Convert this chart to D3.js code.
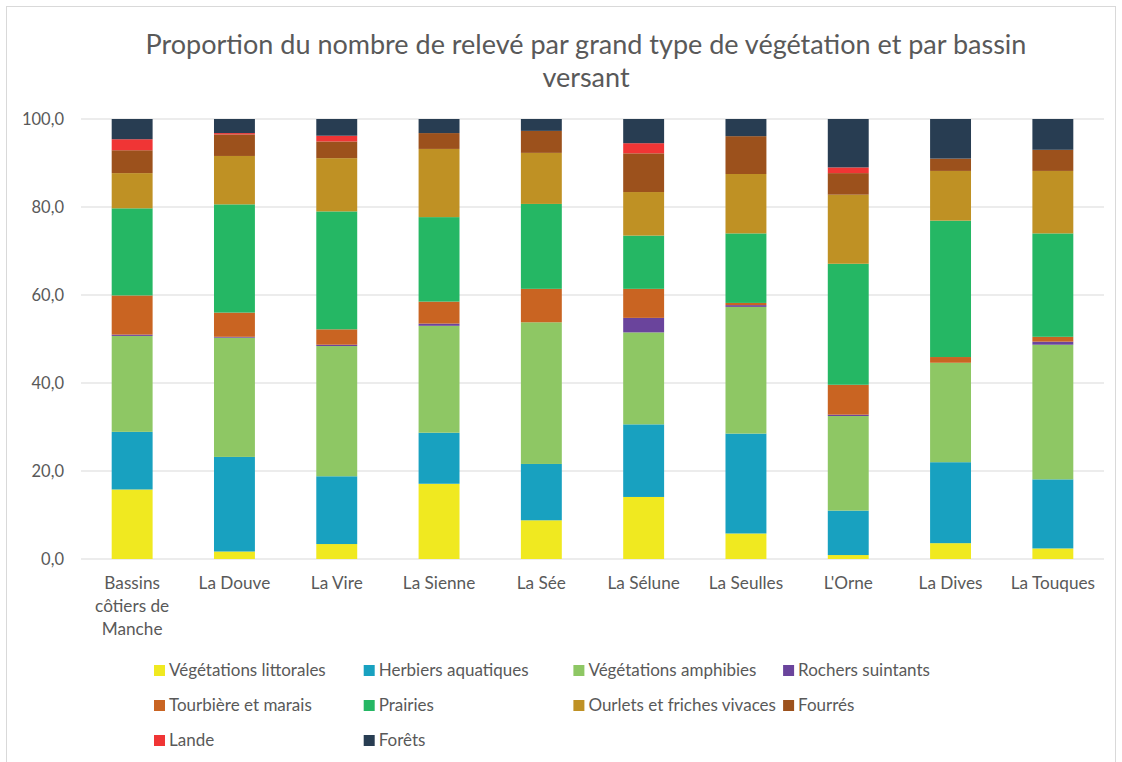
<!DOCTYPE html>
<html><head><meta charset="utf-8">
<script src="https://cdn.jsdelivr.net/npm/d3@7"></script>
<style>body{margin:0;background:#fff}</style>
</head><body>
<svg id="c" width="1122" height="762"></svg>
<script>
// ---- Data ----
const categories = ["Bassins côtiers de Manche","La Douve","La Vire","La Sienne","La Sée","La Sélune","La Seulles","L'Orne","La Dives","La Touques"];
const seriesNames = ["Végétations littorales","Herbiers aquatiques","Végétations amphibies","Rochers suintants","Tourbière et marais","Prairies","Ourlets et friches vivaces","Fourrés","Lande","Forêts"];
const seriesColors = ["#F0E920","#18A1C0","#8EC764","#6A449C","#C96422","#25B764","#BF9124","#9C511C","#F03535","#283D52"];
const littorales = [15.8, 1.7, 3.4, 17.1, 8.8, 14.1, 5.8, 0.9, 3.6, 2.4];
const herbiers   = [13.1, 21.5, 15.4, 11.6, 12.8, 16.5, 22.7, 10.1, 18.4, 15.7];
const amphibies  = [21.8, 27.1, 29.6, 24.3, 32.2, 20.9, 28.8, 21.5, 22.6, 30.6];
const rochers    = [0.3, 0.2, 0.3, 0.5, 0.0, 3.3, 0.4, 0.3, 0.0, 0.7];
const tourbiere  = [8.9, 5.5, 3.5, 5.0, 7.6, 6.6, 0.5, 6.8, 1.3, 1.1];
const prairies   = [19.8, 24.6, 26.8, 19.2, 19.3, 12.1, 15.8, 27.5, 31.0, 23.5];
const ourlets    = [8.0, 11.0, 12.1, 15.5, 11.6, 9.9, 13.5, 15.7, 11.3, 14.2];
const fourres    = [5.2, 4.9, 3.8, 3.6, 5.0, 8.8, 8.6, 4.9, 2.8, 4.8];
const lande      = [2.5, 0.3, 1.3, 0.0, 0.0, 2.3, 0.0, 1.3, 0.0, 0.0];
const forets     = [4.6, 3.2, 3.8, 3.2, 2.7, 5.5, 3.9, 11.0, 9.0, 7.0];
const yTicks = [0, 20, 40, 60, 80, 100];
const titleLines = ["Proportion du nombre de relevé par grand type de végétation et par bassin", "versant"];

const seriesValues = [littorales, herbiers, amphibies, rochers, tourbiere, prairies, ourlets, fourres, lande, forets];
const table = categories.map((c, i) => {
  const row = {cat: c};
  seriesNames.forEach((s, k) => row[s] = seriesValues[k][i]);
  return row;
});

const FONT = "Lato, 'Open Sans', sans-serif";
const TXT = "#595959";
const svg = d3.select("#c");
svg.append("rect").attr("x", 6.5).attr("y", 6.5).attr("width", 1109).attr("height", 770)
  .attr("fill", "#fff").attr("stroke", "#d9d9d9");

const x = d3.scaleBand().domain(categories).range([81, 1104]).paddingInner(0.6).paddingOuter(0.3);
const y = d3.scaleLinear().domain([0, 100]).range([559, 119]);

// gridlines
svg.append("g").selectAll("line").data(yTicks).join("line")
  .attr("x1", 81).attr("x2", 1104).attr("y1", d => y(d)).attr("y2", d => y(d))
  .attr("stroke", "#d9d9d9").attr("stroke-width", 1);

// y axis labels
const yAxis = d3.axisLeft(y).tickValues(yTicks).tickSize(0).tickPadding(0)
  .tickFormat(d => d3.format(".1f")(d).replace(".", ","));
const ga = svg.append("g").attr("transform", "translate(64,0)").call(yAxis);
ga.select(".domain").remove();
ga.selectAll("text").attr("font-family", FONT).attr("font-size", 16.5).attr("fill", TXT);

// bars
const stack = d3.stack().keys(seriesNames)(table);
svg.append("g").selectAll("g").data(stack).join("g")
  .attr("fill", (d, i) => seriesColors[i])
  .selectAll("rect").data(d => d).join("rect")
  .attr("x", d => x(d.data.cat)).attr("width", x.bandwidth())
  .attr("y", d => y(d[1])).attr("height", d => y(d[0]) - y(d[1]));

// x axis labels
const xAxis = d3.axisBottom(x).tickSize(0).tickPadding(0);
const gx = svg.append("g").attr("transform", "translate(0,577)").call(xAxis);
gx.select(".domain").remove();
gx.selectAll("text").attr("font-family", FONT).attr("font-size", 17.2).attr("fill", TXT)
  .each(function(d) {
    const t = d3.select(this);
    const words = d.split(" ");
    t.text(null);
    let line = [], lines = [];
    const tmp = t.append("tspan");
    words.forEach(w => {
      line.push(w);
      tmp.text(line.join(" "));
      if (tmp.node().getComputedTextLength() > 95 && line.length > 1) {
        line.pop(); lines.push(line.join(" ")); line = [w];
      }
    });
    lines.push(line.join(" "));
    tmp.remove();
    lines.forEach((l, i) => t.append("tspan").attr("x", 0).attr("dy", i === 0 ? "0.71em" : 23).text(l));
  });

// title
svg.append("g").selectAll("text").data(titleLines).join("text")
  .attr("x", 586).attr("y", (d, i) => 54 + i * 33).attr("text-anchor", "middle")
  .attr("font-family", FONT).attr("font-size", 27).attr("fill", TXT).text(d => d);

// legend
const lg = svg.append("g").selectAll("g").data(seriesNames).join("g")
  .attr("transform", (d, i) => `translate(${154 + (i % 4) * 209.7},${665 + Math.floor(i / 4) * 35})`);
lg.append("rect").attr("width", 11).attr("height", 11).attr("fill", (d, i) => seriesColors[i]);
lg.append("text").attr("x", 15).attr("y", 11).attr("font-family", FONT).attr("font-size", 17)
  .attr("fill", TXT).text(d => d);
</script>
</body></html>
